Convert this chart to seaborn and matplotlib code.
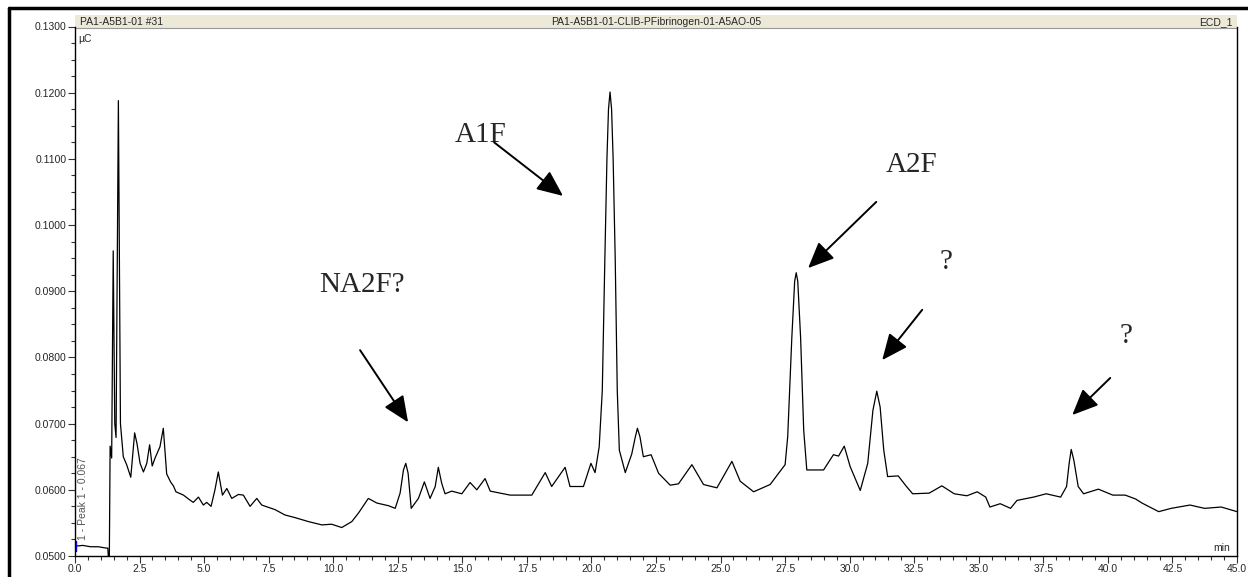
import numpy as np
import pandas as pd
import matplotlib
matplotlib.use("Agg")
import matplotlib.pyplot as plt
from matplotlib.ticker import MultipleLocator, FormatStrFormatter
from matplotlib.patches import Rectangle
from matplotlib.lines import Line2D
import seaborn as sns

sns.set_style("ticks")
plt.rcParams['font.family'] = ['Liberation Sans', 'DejaVu Sans']

# retention time (min) and detector signal (uC)
time_min = [
    0.00, 0.05, 0.30, 0.60, 0.90, 1.20, 1.27, 1.29, 1.33, 1.36, 1.42, 1.48, 1.54, 1.59,
    1.68, 1.76, 1.87, 2.00, 2.16, 2.31, 2.40, 2.52, 2.65, 2.78, 2.89, 2.99, 3.10, 3.29,
    3.42, 3.55, 3.70, 3.81, 3.91, 4.20, 4.40, 4.58, 4.78, 4.97, 5.10, 5.27, 5.42, 5.55,
    5.71, 5.88, 6.07, 6.33, 6.52, 6.78, 7.04, 7.23, 7.75, 8.13, 8.52, 9.04, 9.56, 9.94,
    10.33, 10.72, 10.98, 11.36, 11.69, 12.14, 12.40, 12.59, 12.72, 12.81, 12.90, 13.02,
    13.30, 13.53, 13.75, 13.95, 14.07, 14.20, 14.33, 14.59, 14.98, 15.30, 15.56, 15.88,
    16.08, 16.85, 17.69, 18.21, 18.46, 18.98, 19.17, 19.69, 19.98, 20.14, 20.30, 20.42,
    20.52, 20.60, 20.66, 20.72, 20.78, 20.84, 20.92, 21.00, 21.08, 21.31, 21.56, 21.70,
    21.78, 21.88, 22.01, 22.31, 22.60, 23.05, 23.37, 23.89, 24.34, 24.86, 25.44, 25.76,
    26.28, 26.92, 27.50, 27.60, 27.76, 27.87, 27.93, 27.99, 28.10, 28.22, 28.34, 28.99,
    29.37, 29.57, 29.79, 30.02, 30.41, 30.70, 30.90, 31.05, 31.18, 31.32, 31.47, 31.88,
    32.20, 32.44, 33.08, 33.57, 34.05, 34.54, 34.94, 35.27, 35.43, 35.83, 36.23, 36.48,
    37.12, 37.61, 38.17, 38.40, 38.50, 38.58, 38.68, 38.85, 39.06, 39.63, 40.19, 40.67,
    41.08, 41.32, 41.97, 42.45, 43.18, 43.74, 44.39, 45.00,
]
signal_uc = [
    0.0517, 0.0515, 0.0516, 0.0514, 0.0514, 0.0512, 0.0512, 0.0500, 0.0500, 0.0666, 0.0648, 0.0961, 0.0700, 0.0679,
    0.1188, 0.0700, 0.0650, 0.0638, 0.0619, 0.0686, 0.0670, 0.0640, 0.0627, 0.0640, 0.0668, 0.0636, 0.0648, 0.0665,
    0.0693, 0.0624, 0.0612, 0.0606, 0.0597, 0.0592, 0.0586, 0.0581, 0.0589, 0.0577, 0.0581, 0.0575, 0.0600, 0.0627,
    0.0592, 0.0602, 0.0587, 0.0593, 0.0592, 0.0575, 0.0587, 0.0577, 0.0570, 0.0562, 0.0558, 0.0552, 0.0547, 0.0548,
    0.0543, 0.0552, 0.0565, 0.0587, 0.0580, 0.0576, 0.0572, 0.0595, 0.0630, 0.0640, 0.0625, 0.0572,
    0.0587, 0.0612, 0.0587, 0.0605, 0.0634, 0.0610, 0.0594, 0.0598, 0.0594, 0.0611, 0.0600, 0.0617,
    0.0598, 0.0592, 0.0592, 0.0626, 0.0605, 0.0634, 0.0605, 0.0605, 0.0640, 0.0626, 0.0665, 0.0750,
    0.0950, 0.1100, 0.1175, 0.1201, 0.1175, 0.1100, 0.0950, 0.0750, 0.0660, 0.0626, 0.0654, 0.0680,
    0.0693, 0.0680, 0.0650, 0.0653, 0.0625, 0.0607, 0.0609, 0.0638, 0.0608, 0.0603, 0.0643, 0.0613,
    0.0597, 0.0608, 0.0638, 0.0680, 0.0830, 0.0915, 0.0928, 0.0915, 0.0830, 0.0690, 0.0630, 0.0630,
    0.0653, 0.0651, 0.0666, 0.0635, 0.0599, 0.0640, 0.0720, 0.0749, 0.0725, 0.0660, 0.0620, 0.0621,
    0.0605, 0.0594, 0.0595, 0.0606, 0.0594, 0.0591, 0.0597, 0.0589, 0.0574, 0.0579, 0.0572, 0.0584,
    0.0589, 0.0594, 0.0589, 0.0605, 0.0640, 0.0661, 0.0645, 0.0605, 0.0594, 0.0601, 0.0592, 0.0592,
    0.0586, 0.0580, 0.0567, 0.0572, 0.0577, 0.0572, 0.0574, 0.0567,
]

# peak labels: text, text position, arrow tail, arrow head (min, uC)
labels = ["NA2F?", "A1F", "A2F", "?", "?"]
label_xy = [(11.12, 0.0909), (15.69, 0.1136), (32.38, 0.1091), (33.74, 0.0944), (40.71, 0.0832)]
arrow_tail = [(11.04, 0.0811), (16.23, 0.1125), (31.03, 0.1035), (32.81, 0.0872), (40.09, 0.0769)]
arrow_head = [(12.90, 0.0702), (18.90, 0.1044), (28.39, 0.0935), (31.26, 0.0796), (38.62, 0.0713)]

df = pd.DataFrame({"min": time_min, "uC": signal_uc})

fig = plt.figure(figsize=(12.48, 5.77), dpi=100)
ax = fig.add_axes([75 / 1248, 21 / 577, 1162 / 1248, 529.5 / 577])

sns.lineplot(data=df, x="min", y="uC", ax=ax, color="black", linewidth=0.9, estimator=None)

ax.set_xlim(0, 45)
ax.set_ylim(0.05, 0.13)
ax.set_xlabel("")
ax.set_ylabel("")
ax.xaxis.set_major_locator(MultipleLocator(2.5))
ax.xaxis.set_minor_locator(MultipleLocator(0.5))
ax.yaxis.set_major_locator(MultipleLocator(0.01))
ax.yaxis.set_minor_locator(MultipleLocator(0.0025))
ax.xaxis.set_major_formatter(FormatStrFormatter("%.1f"))
ax.yaxis.set_major_formatter(FormatStrFormatter("%.4f"))
ax.tick_params(which="major", length=5, width=0.8, labelsize=7.5, pad=1, color="#333333")
ax.tick_params(which="minor", length=3, width=0.8, color="#333333")
for s in ["left", "bottom", "right"]:
    ax.spines[s].set_linewidth(1.0)
    ax.spines[s].set_color("black")
ax.spines["top"].set_visible(False)

# header band
ax.add_patch(Rectangle((0, 0.997), 1, 0.024, transform=ax.transAxes, clip_on=False,
                       facecolor="#ECE9D8", edgecolor="none", zorder=0))
ax.add_line(Line2D([0, 1], [0.997, 0.997], transform=ax.transAxes, color="#999999",
                   linewidth=0.8, clip_on=False))
ax.text(0.004, 1.009, "PA1-A5B1-01 #31", transform=ax.transAxes, fontsize=7.5, va="center", ha="left")
ax.text(0.5, 1.009, "PA1-A5B1-01-CLIB-PFibrinogen-01-A5AO-05", transform=ax.transAxes,
        fontsize=7.5, va="center", ha="center")
ax.text(0.996, 1.009, "ECD_1", transform=ax.transAxes, fontsize=7.5, va="center", ha="right")
ax.text(0.003, 0.985, "µC", transform=ax.transAxes, fontsize=7.5, va="top", ha="left")
ax.text(0.994, 0.005, "min", transform=ax.transAxes, fontsize=7.5, va="bottom", ha="right")
ax.text(0.003, 0.03, "1 - Peak 1 - 0.067", transform=ax.transAxes, fontsize=7.5, rotation=90,
        va="bottom", ha="left", color="#555555")
ax.plot([0.05, 0.05], [0.0507, 0.0523], color="blue", linewidth=1)

# peak annotations
for lab, txy, tail, head in zip(labels, label_xy, arrow_tail, arrow_head):
    ax.text(txy[0], txy[1], lab, fontsize=21, family="Liberation Serif", ha="center", va="center")
    ax.annotate("", xy=head, xytext=tail,
                arrowprops=dict(arrowstyle="-|>,head_length=1.6,head_width=0.7",
                                color="black", lw=1.4, shrinkA=0, shrinkB=0))

# outer frame (left and top)
fig.add_artist(Line2D([9 / 1248, 9 / 1248], [0, 1 - 8 / 577], transform=fig.transFigure,
                      color="black", linewidth=2.5))
fig.add_artist(Line2D([9 / 1248, 1], [1 - 8 / 577, 1 - 8 / 577], transform=fig.transFigure,
                      color="black", linewidth=2.5))

fig.savefig("out.png", dpi=100)
